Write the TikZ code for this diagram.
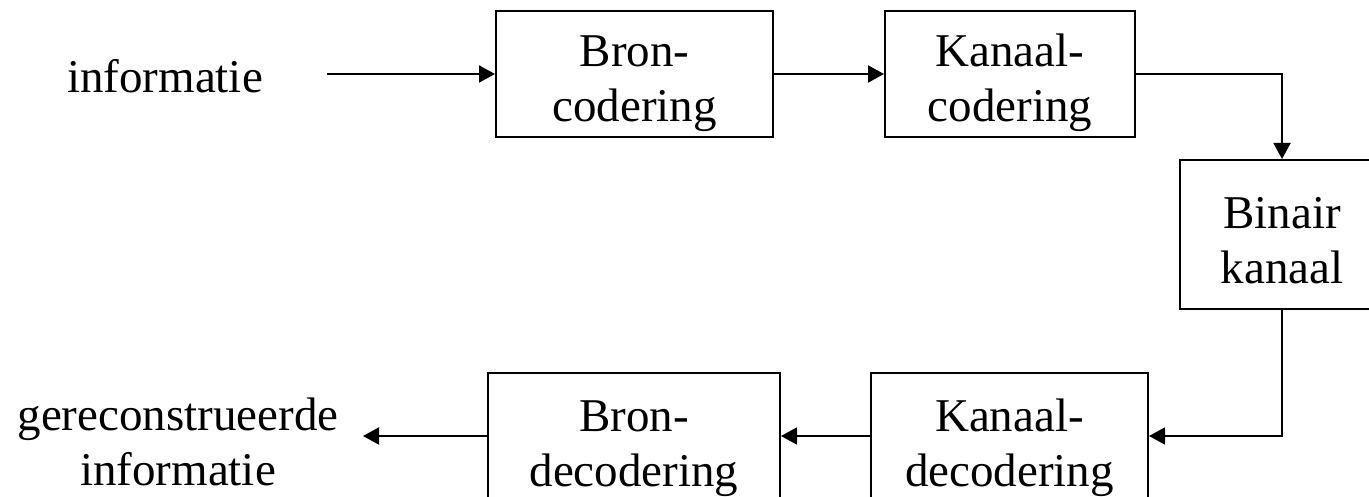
\documentclass[tikz,border=0pt]{standalone}
\usepackage{fontspec}
\setmainfont{Liberation Serif}
\usetikzlibrary{arrows.meta}
\begin{document}
\begin{tikzpicture}[x=0.5pt,y=-0.5pt,
  box/.style={draw, line width=1pt, rectangle, inner sep=0pt, minimum height=63pt},
  lbl/.style={font=\fontsize{23.5pt}{27.5pt}\selectfont, align=center, inner sep=0pt, anchor=base},
  conn/.style={line width=1pt, -{Triangle[length=8pt,width=8.5pt]}}]
\useasboundingbox (0,0) rectangle (1369,497);
\fill[white] (0,0) rectangle (1369,497);

% blocks of the transmission chain
\node[box, minimum width=138.5pt] (bc) at (634.5,74) {};
\node[box, minimum width=125pt] (kc) at (1010,74) {};
\node[box, minimum width=102pt, minimum height=74.5pt] (bk) at (1282,234.5) {};
\node[box, minimum width=138.5pt] (kd) at (1009.5,436) {};
\node[box, minimum width=146pt] (bd) at (634,436) {};

% block texts (anchored on the baseline of their last line)
\node[lbl] (bc-t) at (634.5,122) {Bron-\\codering};
\node[lbl] (kc-t) at (1010,122) {Kanaal-\\codering};
\node[lbl] (bk-t) at (1282,283) {Binair\\kanaal};
\node[lbl] (kd-t) at (1009.5,486) {Kanaal-\\decodering};
\node[lbl] (bd-t) at (634,486) {Bron-\\decodering};

% source and sink
\node[lbl] (info) at (165,93) {informatie};
\node[lbl] (recon) at (178,485) {gereconstrueerde\\informatie};
\coordinate (src) at (327,74);
\coordinate (dst) at (363,436);

% signal flow
\draw[conn] (src) -- (bc.west);
\draw[conn] (bc.east) -- (kc.west);
\draw[conn] (kc.east) -| (bk.north);
\draw[conn] (bk.south) |- (kd.east);
\draw[conn] (kd.west) -- (bd.east);
\draw[conn] (bd.west) -- (dst);
\end{tikzpicture}
\end{document}
